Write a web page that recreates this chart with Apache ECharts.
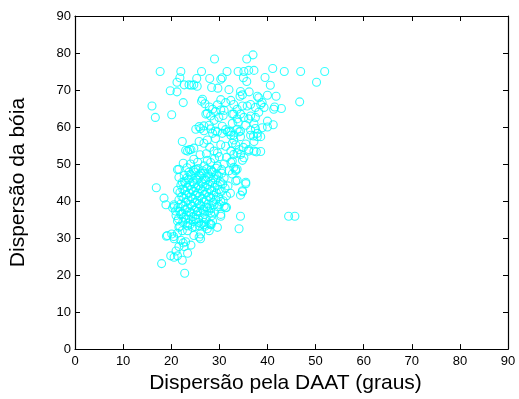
<!DOCTYPE html>
<html>
<head>
<meta charset="utf-8">
<script src="https://cdn.jsdelivr.net/npm/echarts@6/dist/echarts.min.js"></script>
<style>
html,body{margin:0;padding:0;background:#fff;}
#chart{width:519px;height:399px;}
</style>
</head>
<body>
<div id="chart"></div>
<script>
// Axis ticks
var xTicks = [0,10,20,30,40,50,60,70,80,90];
var yTicks = [0,10,20,30,40,50,60,70,80,90];

// Points: [DAAT dispersion, buoy dispersion]
var upperPoints = [
 [17.7,75.0],[22.0,75.0],[26.3,75.0],[31.6,75.0],[29.0,78.4],[37.0,79.5],[35.7,78.4],[33.9,75.0],[35.1,75.0],[36.1,75.3],[37.2,75.3],
 [41.1,75.8],[43.5,75.0],[46.9,75.0],[51.9,75.0],[50.2,72.1],[39.5,73.4],[40.6,71.3],
 [16.0,65.7],[16.7,62.6],[20.1,63.3],[22.5,66.6],[19.8,69.8],[21.2,69.5],[21.2,72.1],[21.8,73.3],[22.7,71.4],[23.7,71.4],[24.2,71.3],[24.7,71.4],[25.4,71.0],[25.3,73.1],[28.0,73.1],[30.3,72.9],[30.6,73.3],[28.4,70.7],[29.7,70.5],[32.0,70.1],
 [34.4,69.6],[34.8,68.7],[34.3,68.3],[36.2,69.5],[37.9,68.3],[35.7,72.3],[35.0,73.3],[40.0,68.6],[41.8,68.3],[46.7,66.8],
 [26.3,67.0],[27.0,66.3],[27.9,65.4],[28.6,64.8],[27.5,63.7],[29.2,64.2],[30.3,64.6],[29.9,62.6],[30.8,63.1],[31.3,66.6],[30.3,67.4],[32.4,67.2],[33.0,66.1],[32.7,63.5],[33.7,64.8],[34.4,63.5],[35.1,62.6],[35.8,65.7],[36.5,66.1],[37.5,65.3],[38.2,64.0],[36.1,62.2],[37.5,62.6],[38.2,67.9],
 [38.6,66.1],[41.5,65.4],[41.3,64.8],[42.9,65.0],[38.9,66.6],[39.3,65.3],[40.0,61.6],[41.2,60.6],[40.0,60.0],[37.2,60.9],[33.9,61.3],[33.7,62.2],[33.0,63.5],
 [25.1,59.4],[26.1,59.6],[26.8,59.0],[28.2,59.5],[29.2,58.9],[31.3,59.3],[32.0,58.8],[33.7,59.4],[34.4,58.9],[36.5,59.2],[37.5,59.6],
 [26.5,67.5],[27.2,63.5],[28.2,63.0],[29.6,66.0],[31.0,64.5],[34.8,65.7],[36.5,63.0],[35.5,60.5],[32.7,61.0],[30.6,60.2],[27.9,60.5],[28.9,61.8],[25.8,60.1],[26.8,60.3],[38.9,59.8]
];
var middlePoints = [
 [22.3,56.1],[23.0,53.7],[24.1,53.9],[24.7,54.3],[25.8,56.1],[26.8,55.6],[27.5,56.5],[28.6,58.3],[29.6,58.7],[29.2,56.9],[30.6,58.3],[31.7,58.7],[32.4,57.8],[33.0,56.5],[34.1,58.7],[34.4,57.4],[36.5,57.8],[37.2,56.1],[37.9,58.3],[36.1,53.9],[37.2,53.5],[35.1,51.7],[33.7,53.0],[32.4,53.5],[31.3,54.8],[30.3,55.2],[29.6,53.0],[28.9,53.5],[24.7,51.3],[21.6,48.6],[22.7,46.9],[23.7,47.8],[25.1,48.6],[26.8,49.5],[28.2,50.4],[29.6,49.5],[31.0,50.0],[32.4,50.4],[32.0,48.2],[33.7,48.6],
 [38.6,57.4],[38.6,53.4],[37.1,57.6],[37.9,57.4],[32.4,58.7],[33.0,57.8],[32.7,55.6],[33.4,55.2],[35.5,55.4],[35.0,54.5],[34.1,53.9],[36.1,53.5],[37.7,53.3],[33.0,52.6],[34.4,52.6],[34.8,51.0],[32.7,50.8],[33.0,49.1],[33.4,48.2],[32.7,47.3],
 [23.4,53.5],[23.8,53.9],[26.0,52.5],[27.3,52.8],[28.0,54.5],[30.0,52.0],[31.5,51.8],[25.5,50.5],[27.5,51.0],[29.0,51.5],[30.5,48.5],[24.0,50.0],[26.2,47.5],[28.5,48.0],[22.5,50.2],[23.3,49.0]
];
var corePoints = [
 [21.3,48.5],[21.6,46.4],[22.3,45.1],[21.3,42.9],[16.9,43.6],[18.5,40.8],[18.9,39.0],[20.6,39.0],[20.6,38.6],[20.9,37.3],[22.0,36.4],[20.3,38.2],[21.3,34.6],[21.6,32.9],[22.3,32.0],[23.0,35.1],[23.4,33.3],[20.1,31.1],[20.5,30.4],[21.3,31.3],[19.2,30.7],[23.4,32.0],[24.4,32.9],[25.8,33.3],[26.8,34.2],[28.2,33.8],[25.1,35.1],[26.5,35.5],[24.7,30.7],[25.8,30.3],[26.1,31.1],[26.1,29.8],[27.9,33.8],[28.3,33.6],[29.6,32.9],[27.9,32.0],[27.0,33.2],[27.5,32.5],[26.8,33.6],[30.3,35.9],[31.3,38.2],[30.3,39.9],[28.9,39.0],[27.5,38.2],[26.8,37.3],[28.2,36.8],[34.4,35.9],[34.1,32.5],[44.4,35.9],[45.7,35.9],[34.4,41.6],[34.8,42.5],[35.5,45.1],[33.7,45.6],[33.4,48.6],[33.4,45.4],[35.5,44.7],[34.8,42.8],[31.0,38.6],[30.3,36.4],[28.6,34.6],[31.5,38.3],
 [21.8,33.2],[23.9,33.6],[25.0,33.1],[26.2,33.8],
 [22.4,34.3],[23.5,34.0],[24.6,34.5],[25.7,34.2],
 [21.5,35.2],[22.6,35.6],[23.7,35.1],[24.5,35.8],[25.6,35.3],[27.3,35.0],
 [21.0,36.1],[22.2,36.6],[23.2,36.2],[24.1,36.8],[25.2,36.3],[26.0,36.9],[27.0,36.4],[28.4,36.0],
 [21.8,37.2],[22.9,37.7],[23.8,37.1],[24.8,37.6],[25.5,37.2],[26.6,37.8],[27.8,37.3],[29.0,37.0],
 [21.4,38.3],[22.5,38.7],[23.4,38.1],[24.3,38.6],[25.3,38.2],[26.1,38.8],[27.2,38.4],[28.3,38.1],[29.6,38.5],
 [22.0,39.2],[23.0,39.7],[24.0,39.1],[24.9,39.6],[25.8,39.3],[26.8,39.8],[27.7,39.2],[28.7,39.7],[30.0,39.1],
 [21.6,40.3],[22.6,40.8],[23.5,40.2],[24.5,40.7],[25.4,40.1],[26.4,40.6],[27.3,40.3],[28.2,40.9],[29.3,40.4],[30.8,40.1],
 [22.2,41.2],[23.1,41.7],[24.1,41.1],[25.0,41.6],[25.9,41.3],[26.9,41.8],[27.8,41.2],[28.8,41.6],[29.8,41.1],[31.5,41.4],
 [21.8,42.3],[22.8,42.8],[23.7,42.1],[24.6,42.6],[25.5,42.2],[26.5,42.7],[27.4,42.3],[28.4,42.8],[29.4,42.2],[30.4,42.6],[32.3,42.1],
 [22.4,43.2],[23.3,43.7],[24.2,43.1],[25.1,43.6],[26.1,43.3],[27.0,43.8],[28.0,43.2],[29.0,43.7],[30.0,43.1],[31.2,43.5],
 [22.0,44.3],[23.0,44.8],[23.9,44.2],[24.8,44.7],[25.7,44.1],[26.6,44.6],[27.6,44.3],[28.6,44.8],[29.6,44.2],[30.7,44.6],[31.8,44.1],
 [22.7,45.3],[23.6,45.8],[24.5,45.2],[25.4,45.7],[26.3,45.1],[27.2,45.6],[28.2,45.3],[29.2,45.8],[30.2,45.2],
 [23.3,46.3],[24.2,46.8],[25.1,46.2],[26.0,46.7],[26.9,46.1],[27.9,46.6],[28.8,46.3],[29.8,46.8],[31.0,46.2],
 [24.0,47.2],[24.9,47.7],[25.8,47.1],[26.7,47.6],[27.6,47.3],[28.5,47.8],[29.4,47.2],[30.5,47.5],
 [24.6,48.3],[25.6,48.8],[26.5,48.2],[27.4,48.7],[28.3,48.4],[29.3,48.9]
];
var lowerPoints = [
 [18.0,23.1],[22.8,20.5],[19.9,25.2],[20.6,24.8],[21.3,25.2],[22.3,24.0],[23.4,25.9],[22.7,27.7],[21.6,27.7],[24.1,28.1],[22.0,29.4],[20.6,29.8],[19.0,30.5],[22.5,28.7],[21.0,26.5],[23.0,29.0]
];

var allPoints = upperPoints.concat(middlePoints, corePoints, lowerPoints);

var font = 'Liberation Sans, Arial, sans-serif';
var axisLine = {show:true, onZero:false, lineStyle:{color:'#000', width:1.2}};
var tick = {show:true, inside:true, length:5, lineStyle:{color:'#000', width:1}};

var chart = echarts.init(document.getElementById('chart'), null, {renderer:'canvas'});
chart.setOption({
  animation:false,
  backgroundColor:'#fff',
  grid:{left:74, right:11, top:16, bottom:40, containLabel:false},
  xAxis:[{
    type:'value', min:xTicks[0], max:xTicks[xTicks.length-1], interval:10, position:'bottom',
    name:'Dispersão pela DAAT (graus)', nameLocation:'middle', nameGap:10,
    nameTextStyle:{fontFamily:font, fontSize:21, color:'#000', padding:[0,12,0,0]},
    axisLine:axisLine, axisTick:tick, splitLine:{show:false},
    axisLabel:{fontFamily:font, fontSize:13, color:'#000', margin:6}
  },{
    type:'value', min:xTicks[0], max:xTicks[xTicks.length-1], interval:10, position:'top',
    axisLine:axisLine, axisTick:tick, splitLine:{show:false}, axisLabel:{show:false}
  }],
  yAxis:[{
    type:'value', min:yTicks[0], max:yTicks[yTicks.length-1], interval:10, position:'left',
    name:'Dispersão da bóia', nameLocation:'middle', nameGap:46,
    nameTextStyle:{fontFamily:font, fontSize:21, color:'#000'},
    axisLine:axisLine, axisTick:tick, splitLine:{show:false},
    axisLabel:{fontFamily:font, fontSize:13, color:'#000', margin:4}
  },{
    type:'value', min:yTicks[0], max:yTicks[yTicks.length-1], interval:10, position:'right',
    axisLine:axisLine, axisTick:tick, splitLine:{show:false}, axisLabel:{show:false}
  }],
  series:[{
    type:'scatter', xAxisIndex:0, yAxisIndex:0,
    data:allPoints,
    symbol:'circle', symbolSize:8,
    itemStyle:{color:'rgba(0,0,0,0)', borderColor:'#00FFFF', borderWidth:1.1},
    emphasis:{disabled:true}
  }]
});
</script>
</body>
</html>
